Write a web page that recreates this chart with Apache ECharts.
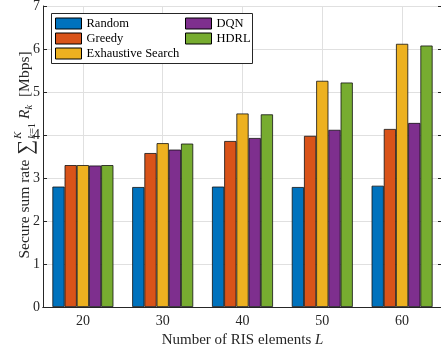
<!DOCTYPE html>
<html>
<head>
<meta charset="utf-8">
<script src="https://cdn.jsdelivr.net/npm/echarts@6/dist/echarts.min.js"></script>
<style>
  html, body { margin: 0; padding: 0; background: #fff; }
  #chart { width: 441px; height: 347px; }
</style>
</head>
<body>
<div id="chart"></div>
<script>
// Secure sum rate (Mbps) versus number of RIS elements L
const categories = ['20', '30', '40', '50', '60'];
const seriesNames = ['Random', 'Greedy', 'Exhaustive Search', 'DQN', 'HDRL'];
const randomRate     = [2.80, 2.79, 2.80, 2.79, 2.82];
const greedyRate     = [3.30, 3.58, 3.86, 3.98, 4.14];
const exhaustiveRate = [3.30, 3.81, 4.50, 5.26, 6.12];
const dqnRate        = [3.29, 3.66, 3.93, 4.12, 4.28];
const hdrlRate       = [3.30, 3.80, 4.48, 5.22, 6.08];
const yTicks = { min: 0, max: 7, step: 1 };
// L values spanned by the category bands (band edges half a step beyond 20 and 60)
const lRange = { min: 15, max: 65 };

const colors = ['#0072BD', '#D95319', '#EDB120', '#7E2F8E', '#77AC30'];
const FONT = '"Liberation Serif", "Times New Roman", serif';
const INK = '#262626';
const GRID = '#e0e0e0';

// Build the y-axis title (with summation limits) as a rotated group of text runs
const measureCtx = document.createElement('canvas').getContext('2d');
function textWidth(text, size, italic) {
  measureCtx.font = (italic ? 'italic ' : '') + size + 'px "Liberation Serif"';
  return measureCtx.measureText(text).width;
}
function run(text, size, italic, x, y) {
  return {
    type: 'text', x: x, y: y,
    style: {
      text: text, fontSize: size, fontFamily: FONT,
      fontStyle: italic ? 'italic' : 'normal',
      fill: INK, align: 'left', verticalAlign: 'middle'
    }
  };
}
function buildYTitle() {
  const parts = [];
  let x = 0;
  const main = 15.5, small = 10.5, op = 21;
  parts.push(run('Secure sum rate ', main, false, x, 0)); x += textWidth('Secure sum rate ', main, false) + 1;
  parts.push(run('\u2211', op, false, x, 1)); x += textWidth('\u2211', op, false) + 1;
  parts.push(run('K', small, true, x, -7));
  parts.push(run('k', small, true, x, 7));
  parts.push(run('=1', small, false, x + textWidth('k', small, true), 7));
  x += Math.max(textWidth('K', small, true), textWidth('k', small, true) + textWidth('=1', small, false)) + 4;
  parts.push(run('R', main, true, x, 0)); x += textWidth('R', main, true);
  parts.push(run('k', small, true, x, 4)); x += textWidth('k', small, true);
  parts.push(run('  [Mbps]', main, false, x, 0)); x += textWidth('  [Mbps]', main, false);
  parts.forEach(p => { p.x -= x / 2; });
  return parts;
}

const seriesData = [randomRate, greedyRate, exhaustiveRate, dqnRate, hdrlRate];

const legendCommon = {
  orient: 'vertical',
  itemWidth: 26,
  itemHeight: 11,
  itemGap: 2,
  padding: 0,
  icon: 'rect',
  selectedMode: false,
  textStyle: { fontFamily: FONT, fontSize: 12.5, color: '#000' },
  itemStyle: { borderColor: '#000', borderWidth: 1 }
};

const chart = echarts.init(document.getElementById('chart'), null, { renderer: 'canvas' });
chart.setOption({
  animation: false,
  backgroundColor: '#fff',
  color: colors,
  grid: { left: 43, right: -1, top: 6, bottom: 40, containLabel: false, outerBoundsMode: 'none' },
  legend: [
    Object.assign({}, legendCommon, { data: seriesNames.slice(0, 3), left: 55, top: 17 }),
    Object.assign({}, legendCommon, { data: seriesNames.slice(3), left: 185, top: 17 })
  ],
  graphic: [
    {
      type: 'rect', z: 3,
      shape: { x: 51.5, y: 13.5, width: 201, height: 50 },
      style: { fill: '#fff', stroke: INK, lineWidth: 1 }
    },
    {
      type: 'group', x: 25, y: 155, rotation: Math.PI / 2,
      children: buildYTitle()
    }
  ],
  xAxis: [
    {
      type: 'category', position: 'bottom', data: categories,
      axisLine: { lineStyle: { color: INK, width: 1 } },
      axisTick: { inside: true, length: 4, alignWithLabel: true, lineStyle: { color: INK } },
      axisLabel: { margin: 7, fontFamily: FONT, fontSize: 14, color: INK },
      splitLine: { show: false },
      name: '{n|Number of RIS elements }{i|L}',
      nameLocation: 'middle',
      nameGap: 22,
      nameTextStyle: {
        rich: {
          n: { fontFamily: FONT, fontSize: 15, color: INK },
          i: { fontFamily: FONT, fontSize: 15, fontStyle: 'italic', color: INK }
        }
      }
    },
    {
      type: 'category', position: 'top', data: categories,
      axisLine: { lineStyle: { color: INK, width: 1 } },
      axisTick: { inside: true, length: 4, alignWithLabel: true, lineStyle: { color: INK } },
      axisLabel: { show: false },
      splitLine: { show: false }
    },
    {
      // numeric L scale over the same bands; only its grid lines are drawn (at 20, 30, ... 60)
      type: 'value', position: 'bottom',
      min: lRange.min, max: lRange.max, splitNumber: 5,
      axisLine: { show: false },
      axisTick: { show: false },
      axisLabel: { show: false },
      splitLine: { show: true, lineStyle: { color: GRID, width: 1 } }
    }
  ],
  yAxis: [
    {
      type: 'value', position: 'left',
      min: yTicks.min, max: yTicks.max, interval: yTicks.step,
      axisLine: { show: true, lineStyle: { color: INK, width: 1 } },
      axisTick: { show: true, inside: true, length: 4, lineStyle: { color: INK } },
      axisLabel: { margin: 3, fontFamily: FONT, fontSize: 14, color: INK },
      splitLine: { show: true, lineStyle: { color: GRID, width: 1 } }
    },
    {
      type: 'value', position: 'right',
      min: yTicks.min, max: yTicks.max, interval: yTicks.step,
      axisLine: { show: true, lineStyle: { color: INK, width: 1 } },
      axisTick: { show: true, inside: true, length: 4, lineStyle: { color: INK } },
      axisLabel: { show: false },
      splitLine: { show: false }
    }
  ],
  series: seriesNames.map((name, i) => ({
    name: name,
    type: 'bar',
    xAxisIndex: 0,
    yAxisIndex: 0,
    data: seriesData[i],
    barWidth: 12.2,
    barGap: '0%',
    itemStyle: { color: colors[i], borderColor: '#111', borderWidth: 0.8 }
  }))
});
</script>
</body>
</html>
